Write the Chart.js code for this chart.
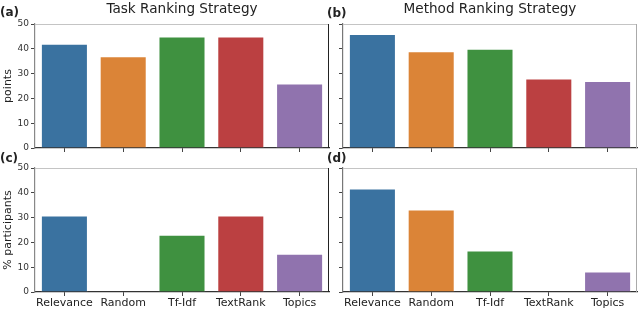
<!DOCTYPE html>
<html>
<head>
<meta charset="utf-8">
<script src="https://cdn.jsdelivr.net/npm/chart.js@4"></script>
<style>
  body { margin: 0; background: #fff; }
  #wrap { position: relative; width: 640px; height: 310px; font-family: "DejaVu Sans", sans-serif; color: #222; }
  canvas { position: absolute; left: 0; top: 0; }
  .lbl { position: absolute; font-weight: bold; font-size: 12px; line-height: 14px; }
  .ttl { position: absolute; font-size: 13.6px; line-height: 16px; text-align: center; white-space: nowrap; }
</style>
</head>
<body>
<div id="wrap">
  <canvas id="chartA" width="640" height="310"></canvas>
  <canvas id="chartB" width="640" height="310"></canvas>
  <canvas id="chartC" width="640" height="310"></canvas>
  <canvas id="chartD" width="640" height="310"></canvas>
  <div class="lbl" style="left:0px;top:5px">(a)</div>
  <div class="lbl" style="left:327px;top:6px">(b)</div>
  <div class="lbl" style="left:0px;top:151px">(c)</div>
  <div class="lbl" style="left:327px;top:151px">(d)</div>
  <div class="ttl" style="left:35px;width:294px;top:0px">Task Ranking Strategy</div>
  <div class="ttl" style="left:343px;width:294px;top:0px">Method Ranking Strategy</div>
</div>
<script>
const strategies = ['Relevance', 'Random', 'Tf-Idf', 'TextRank', 'Topics'];
const taskPoints = [42, 37, 45, 45, 26];
const methodPoints = [46, 39, 40, 28, 27];
const taskParticipants = [30.8, 0, 23.1, 30.8, 15.4];
const methodParticipants = [41.7, 33.3, 16.7, 0, 8.3];
const yTicks = [0, 10, 20, 30, 40, 50];
const barColors = ['#3a72a0', '#db8437', '#3f9140', '#bb4041', '#9073ae'];

// draws the light top/right spines
const framePlugin = {
    id: 'frame',
    afterDraw(chart, args, opts) {
        const a = chart.chartArea;
        const ctx = chart.ctx;
        ctx.save();
        ctx.lineWidth = 1;
        ctx.strokeStyle = opts.top;
        ctx.beginPath();
        ctx.moveTo(a.left, a.top + 0.5);
        ctx.lineTo(a.right, a.top + 0.5);
        ctx.stroke();
        ctx.strokeStyle = opts.right;
        ctx.beginPath();
        ctx.moveTo(a.right - 0.5, a.top);
        ctx.lineTo(a.right - 0.5, a.bottom);
        ctx.stroke();
        ctx.restore();
    }
};

function makePanel(id, values, cfg) {
    const ctx = document.getElementById(id);
    new Chart(ctx, {
        type: 'bar',
        data: {
            labels: strategies,
            datasets: [{
                data: values,
                backgroundColor: barColors,
                borderColor: 'rgba(255,255,255,0.35)',
                borderWidth: 1,
                categoryPercentage: 0.8,
                barPercentage: 1
            }]
        },
        options: {
            responsive: false,
            animation: false,
            layout: { padding: cfg.padding },
            plugins: {
                legend: { display: false },
                tooltip: { enabled: false },
                frame: { top: '#c4c4c4', right: cfg.rightColor }
            },
            scales: {
                x: {
                    grid: { drawOnChartArea: false, offset: false, tickLength: 4, color: '#444' },
                    border: { color: '#333', width: 1.2 },
                    ticks: {
                        display: cfg.xLabels,
                        autoSkip: false,
                        maxRotation: 0,
                        minRotation: 0,
                        padding: 1,
                        color: '#222',
                        font: { family: 'DejaVu Sans', size: 11 }
                    },
                    afterFit: (s) => { s.height = cfg.xHeight; }
                },
                y: {
                    min: 0,
                    max: 50,
                    afterBuildTicks: (s) => { s.ticks = yTicks.map(v => ({ value: v })); },
                    grid: { drawOnChartArea: false, tickLength: 4, color: '#444' },
                    border: { color: cfg.leftColor, width: 1.2 },
                    ticks: {
                        display: cfg.yLabels,
                        padding: 2,
                        color: '#333',
                        font: { family: 'DejaVu Sans', size: 9 }
                    },
                    title: {
                        display: !!cfg.yTitle,
                        text: cfg.yTitle || '',
                        color: '#222',
                        padding: { top: 2, bottom: 0 },
                        font: { family: 'DejaVu Sans', size: 11 }
                    },
                    afterFit: (s) => { s.width = cfg.yWidth; }
                }
            }
        },
        plugins: [framePlugin]
    });
}

makePanel('chartA', taskPoints, {
    padding: { left: 0, top: 24, right: 311, bottom: 156 },
    xHeight: 6, yWidth: 35, xLabels: false, yLabels: true,
    yTitle: 'points', leftColor: '#888', rightColor: '#222'
});
makePanel('chartB', methodPoints, {
    padding: { left: 330, top: 24, right: 3, bottom: 156 },
    xHeight: 6, yWidth: 13, xLabels: false, yLabels: false,
    leftColor: '#777', rightColor: '#aaa'
});
makePanel('chartC', taskParticipants, {
    padding: { left: 0, top: 168, right: 311, bottom: 0 },
    xHeight: 18, yWidth: 35, xLabels: true, yLabels: true,
    yTitle: '% participants', leftColor: '#888', rightColor: '#222'
});
makePanel('chartD', methodParticipants, {
    padding: { left: 330, top: 168, right: 3, bottom: 0 },
    xHeight: 18, yWidth: 13, xLabels: true, yLabels: false,
    leftColor: '#777', rightColor: '#aaa'
});
</script>
</body>
</html>
